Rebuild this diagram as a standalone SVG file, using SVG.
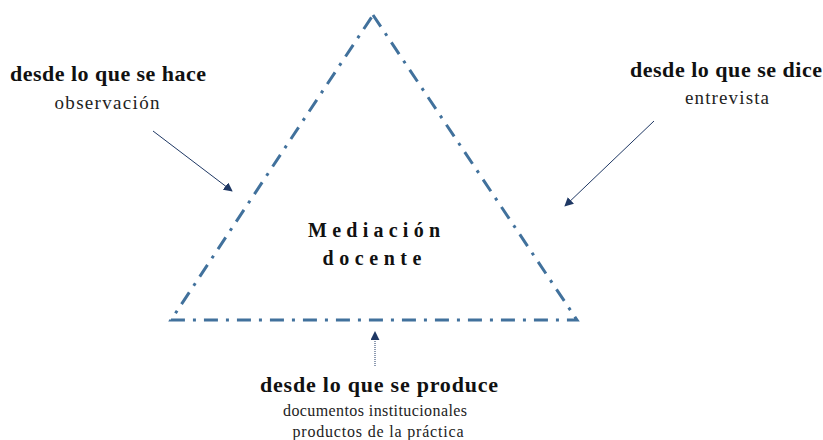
<svg xmlns="http://www.w3.org/2000/svg" width="823" height="440" viewBox="0 0 823 440">
<style>
.h{font-family:"Liberation Serif",serif;font-weight:bold;font-size:22px;fill:#111;text-anchor:middle}
.s{font-family:"Liberation Serif",serif;font-size:19px;fill:#222;text-anchor:middle}
.xs{font-family:"Liberation Serif",serif;font-size:16px;fill:#222;text-anchor:middle}
.m{font-family:"Liberation Serif",serif;font-weight:bold;font-size:20px;fill:#111;text-anchor:middle}
.tri{fill:none;stroke:#41719C;stroke-width:3;stroke-dasharray:14 8 3 8;stroke-linejoin:miter}
.arr{stroke:#1F3864;stroke-width:1;fill:none;marker-end:url(#ah)}
</style>
<defs>
<marker id="ah" viewBox="0 0 10 10" refX="9" refY="5" markerWidth="9" markerHeight="9" markerUnits="userSpaceOnUse" orient="auto">
<path d="M0,0 L10,5 L0,10 Z" fill="#1F3864"/>
</marker>
</defs>
<g id="triangle">
<path class="tri" d="M373,15 L577,320 L171,320 Z"/>
<text class="m" x="374" y="237" textLength="132" lengthAdjust="spacing">Mediación</text>
<text class="m" x="372" y="265" textLength="99" lengthAdjust="spacing">docente</text>
</g>
<g id="hace">
<text class="h" x="108" y="81" textLength="196" lengthAdjust="spacing">desde lo que se hace</text>
<text class="s" x="107" y="109" textLength="105" lengthAdjust="spacing">observación</text>
</g>
<g id="dice">
<text class="h" x="726" y="77" textLength="192" lengthAdjust="spacing">desde lo que se dice</text>
<text class="s" x="727" y="104" textLength="84" lengthAdjust="spacing">entrevista</text>
</g>
<g id="produce">
<text class="h" x="379" y="392" textLength="238" lengthAdjust="spacing">desde lo que se produce</text>
<text class="xs" x="375" y="416" textLength="184" lengthAdjust="spacing">documentos institucionales</text>
<text class="xs" x="378" y="437" textLength="171" lengthAdjust="spacing">productos de la práctica</text>
</g>
<g id="connectors">
<line class="arr" x1="153" y1="131" x2="232" y2="191"/>
<line class="arr" x1="654" y1="121" x2="565" y2="206"/>
<line class="arr" x1="375" y1="366" x2="375" y2="332" style="stroke-dasharray:1 1"/>
</g>
</svg>
